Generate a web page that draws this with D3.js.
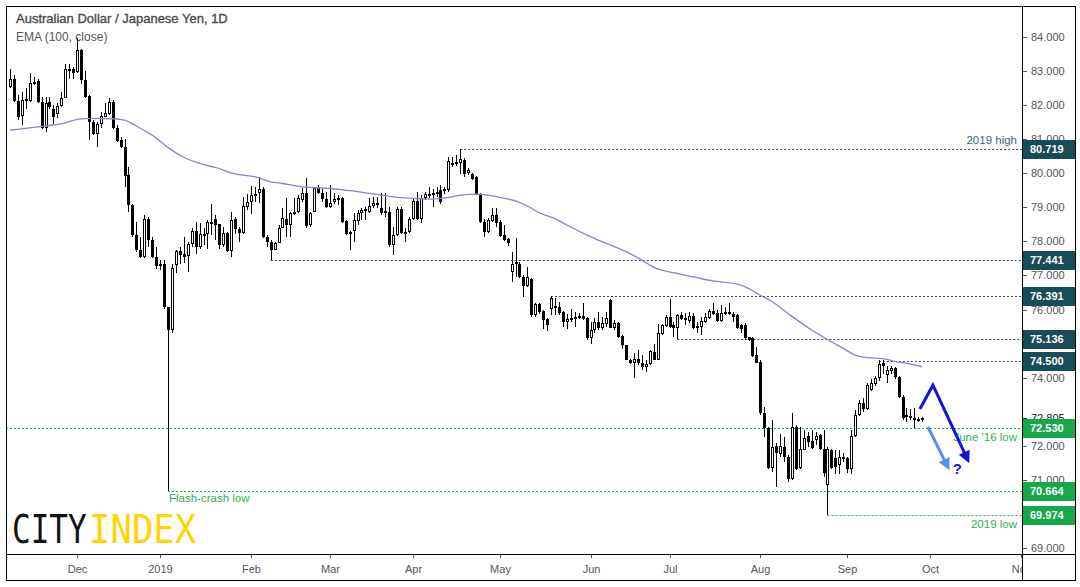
<!DOCTYPE html>
<html><head><meta charset="utf-8">
<script src="https://cdn.jsdelivr.net/npm/d3@7"></script>
<style>body{margin:0;background:#fff}svg{display:block}</style>
</head><body>
<svg id="c" width="1080" height="587"></svg>
<script>
// ---------- DATA ----------
const startDate = "2018-11-08"; // first daily bar (weekdays only)
const opens = [
82.54,82.78,82.13,81.68,82.15,82.13,82.68,82.70,82.10,81.32,
82.10,81.90,81.74,81.98,82.20,83.05,83.05,82.98,83.62,82.74,
82.27,81.51,81.15,81.46,81.66,81.74,82.10,81.34,80.99,80.76,
79.95,79.06,78.18,77.74,77.55,78.67,78.04,77.55,77.28,77.35,
76.06,75.41,77.30,77.72,77.62,77.57,77.92,78.31,77.84,78.23,
78.21,78.58,78.67,78.50,77.88,78.25,77.72,78.67,78.35,78.25,
79.01,79.17,79.36,79.41,79.53,78.14,77.99,77.76,77.94,78.38,
78.67,78.48,78.85,78.87,79.21,79.43,78.48,78.87,79.56,79.43,
79.23,79.00,79.17,79.26,79.26,78.60,78.26,78.31,78.60,78.82,
78.95,78.87,79.04,79.11,78.97,78.82,78.87,77.89,78.20,78.95,
78.25,78.28,78.67,79.18,78.67,79.28,79.38,79.36,79.45,79.51,
79.48,79.51,80.31,80.34,80.31,80.39,80.02,79.99,79.90,79.39,
78.58,78.28,78.61,78.77,78.58,78.18,78.06,77.11,77.35,77.35,
76.96,76.69,76.91,75.84,76.16,75.95,75.71,76.03,76.10,76.08,
75.93,75.64,75.71,75.77,75.74,75.80,75.74,75.15,75.40,75.62,
75.46,75.59,76.28,75.47,75.61,75.22,74.95,74.53,74.42,74.56,
74.42,74.30,74.40,74.76,74.53,75.28,75.52,75.79,75.54,75.47,
75.84,75.74,75.67,75.81,75.45,75.49,75.64,75.74,75.95,75.90,
75.67,75.93,75.93,75.88,75.83,75.54,75.54,75.18,75.15,74.66,
74.47,72.95,72.51,71.36,71.99,71.77,71.97,71.68,71.04,72.56,
71.36,71.89,72.28,72.15,72.16,72.31,71.92,70.84,71.87,71.63,
71.43,71.63,71.63,71.33,72.28,72.90,73.26,73.07,73.65,73.81,
73.98,74.44,74.07,74.20,74.27,74.02,73.44,72.90,72.87,72.83,
72.73,72.77];
const highs = [
83.05,82.88,82.30,82.39,82.49,82.93,82.83,82.78,82.25,82.25,
82.25,82.00,82.05,82.39,83.21,83.22,83.11,83.96,83.64,83.01,
82.29,81.56,81.51,81.81,82.07,82.20,82.15,81.41,81.07,81.02,
80.19,79.10,78.58,78.13,78.77,78.72,78.13,77.84,77.45,77.45,
76.08,77.33,77.74,77.84,78.13,77.99,78.38,78.58,78.53,78.38,
78.62,79.11,78.77,78.52,78.43,78.28,78.87,78.72,78.41,79.31,
79.39,79.62,79.60,79.88,79.60,78.19,78.04,77.99,78.48,78.97,
79.26,78.87,79.26,79.36,79.56,79.85,78.87,79.60,79.65,79.53,
79.46,79.65,79.41,79.36,79.31,78.63,78.30,78.82,78.92,78.97,
79.02,79.26,79.31,79.31,79.41,79.41,79.00,78.43,79.02,79.02,
78.38,78.72,79.26,79.46,79.36,79.46,79.60,79.53,79.60,79.65,
79.60,80.49,80.49,80.53,80.719,80.45,80.14,80.02,79.92,79.41,
78.65,78.68,78.97,78.97,78.63,78.48,78.10,77.70,78.09,77.40,
77.01,77.26,76.94,76.20,76.20,75.98,75.74,76.391,76.33,76.23,
75.95,75.88,76.03,75.93,75.90,76.20,75.77,75.64,75.74,75.93,
75.79,75.93,76.30,75.69,75.64,75.25,74.97,74.56,74.71,74.81,
74.66,74.52,74.81,75.00,75.59,75.59,75.84,76.30,75.64,75.86,
75.93,75.91,75.93,75.91,75.64,75.77,75.90,76.03,76.18,76.00,
76.13,76.08,76.18,75.93,75.88,75.59,75.61,75.20,75.20,74.90,
74.52,73.14,72.56,72.75,72.09,72.36,72.26,71.72,72.95,72.61,
72.56,72.46,72.41,72.46,72.41,72.36,72.46,71.97,71.92,71.87,
71.87,71.79,71.68,72.46,73.05,73.34,73.40,73.83,73.95,74.05,
74.51,74.51,74.34,74.35,74.30,74.05,73.48,73.12,73.09,73.12,
72.85,72.85];
const lows = [
82.50,82.10,81.56,81.41,81.90,82.10,82.59,82.05,81.29,81.22,
81.90,81.46,81.61,81.95,82.20,82.78,82.78,82.95,82.62,82.20,
80.97,81.12,80.76,81.32,81.64,81.71,81.29,80.92,80.73,79.60,
78.87,78.13,77.70,77.50,77.50,77.85,77.50,77.18,77.16,76.03,
70.664,75.30,77.06,77.35,77.37,77.11,77.84,77.64,77.79,77.89,
77.79,78.18,78.04,77.79,77.84,77.70,77.55,78.23,77.99,78.21,
78.92,78.80,79.16,79.13,78.09,77.85,77.441,77.74,77.94,78.38,
78.14,78.14,78.77,78.82,79.16,78.38,78.43,78.87,79.40,79.16,
78.97,78.97,79.11,79.07,78.55,78.20,77.75,77.99,78.48,78.63,
78.63,78.82,78.97,78.97,78.77,78.72,77.84,77.60,78.15,78.21,
77.99,78.25,78.62,78.62,78.53,79.21,79.26,79.02,79.30,79.11,
79.40,79.45,80.19,80.20,79.99,79.90,79.95,79.80,79.36,78.53,
78.14,78.25,78.58,78.43,78.14,78.00,77.86,76.82,76.96,76.92,
76.38,76.67,75.77,75.79,75.87,75.42,75.38,75.83,75.83,75.85,
75.49,75.44,75.64,75.49,75.71,75.69,75.12,75.00,75.30,75.40,
75.40,75.49,75.45,75.40,75.15,74.83,74.51,74.40,73.98,74.37,
74.22,74.17,74.37,74.51,74.51,75.25,75.49,75.45,75.20,75.136,
75.69,75.54,75.61,75.42,75.30,75.25,75.61,75.71,75.84,75.64,
75.64,75.84,75.84,75.64,75.44,75.30,75.12,75.08,74.61,74.42,
72.90,72.26,71.33,71.24,70.79,71.67,71.53,70.94,70.99,71.28,
71.33,71.87,71.97,71.92,72.02,71.89,71.09,69.974,71.33,71.18,
71.18,71.53,71.20,71.18,72.25,72.87,73.00,73.04,73.60,73.75,
73.90,74.12,73.83,74.10,73.95,73.39,72.77,72.70,72.75,72.53,
72.70,72.70];
const closes = [
82.78,82.13,81.64,82.15,82.17,82.66,82.62,82.10,81.32,82.07,
81.95,81.66,81.98,82.20,83.05,83.03,82.93,83.62,82.74,82.23,
81.51,81.15,81.46,81.68,81.76,82.10,81.32,80.95,80.76,79.92,
79.06,78.18,77.74,77.55,78.67,78.04,77.55,77.28,77.35,76.06,
75.41,77.23,77.72,77.60,77.55,77.92,78.31,77.84,78.23,78.15,
78.58,78.55,78.48,77.88,78.25,77.72,78.64,78.35,78.25,79.03,
79.17,79.36,79.39,79.55,78.14,77.99,77.74,77.94,78.38,78.70,
78.48,78.82,78.87,79.26,79.41,78.45,78.82,79.58,79.43,79.23,
79.02,79.14,79.23,79.23,78.58,78.23,78.28,78.63,78.82,78.92,
78.90,79.04,79.14,79.12,78.82,78.90,77.89,78.20,78.95,78.25,
78.28,78.67,79.18,78.67,79.28,79.38,79.39,79.43,79.46,79.16,
79.53,80.37,80.31,80.29,80.41,79.99,80.09,79.82,79.39,78.58,
78.28,78.63,78.77,78.55,78.16,78.04,77.96,77.35,77.39,76.96,
76.69,76.96,75.84,76.16,75.94,75.69,75.54,76.33,76.05,75.90,
75.64,75.71,75.75,75.71,75.80,75.71,75.15,75.40,75.62,75.47,
75.61,75.74,75.47,75.61,75.20,74.95,74.53,74.42,74.56,74.42,
74.30,74.40,74.79,74.53,75.30,75.54,75.79,75.49,75.47,75.84,
75.71,75.69,75.81,75.45,75.51,75.67,75.79,75.95,75.88,75.67,
75.90,75.88,75.88,75.77,75.47,75.44,75.15,75.12,74.63,74.44,
72.95,72.51,71.36,71.97,71.79,71.99,71.68,71.04,72.56,71.33,
71.92,72.24,72.12,71.95,72.28,71.92,71.19,71.92,71.36,71.38,
71.68,71.68,71.33,72.28,72.90,73.26,73.07,73.78,73.83,73.98,
74.40,74.34,74.22,74.27,74.02,73.44,72.83,72.85,72.83,72.75,
72.80,72.805];

// EMA(100, close): bar index / value
const emaIdx = [0,6,14,17,21,26,29,31,33,36,40,43,48,52,57,62,66,69,74,80,86,91,97,102,107,111,114,118,121,124,128,131,134,138,141,146,151,156,160,163,168,173,178,184,187,190,193,198,203,207,211,214,217,221,224,227,231];
const emaVal = [81.27,81.35,81.48,81.58,81.61,81.60,81.56,81.45,81.32,81.12,80.76,80.53,80.29,80.17,79.98,79.90,79.75,79.70,79.60,79.56,79.49,79.41,79.31,79.26,79.24,79.29,79.36,79.39,79.36,79.29,79.19,79.04,78.84,78.67,78.48,78.19,77.94,77.70,77.45,77.24,77.08,76.96,76.84,76.75,76.62,76.42,76.23,75.80,75.40,75.12,74.86,74.66,74.59,74.56,74.48,74.42,74.32];

// y tick labels visible in the reference (73, 75, 70 are hidden by price labels)
const yTickValues = [69,71,72,74,76,77,78,79,80,81,82,83,84];
const monthTickLabels = ["Dec","2019","Feb","Mar","Apr","May","Jun","Jul","Aug","Sep","Oct","Nov"];

const tealLevels = [80.719,77.441,76.391,75.136,74.500];
const tealStartIdx = [114,66,137,169,220];
const greenLevels = [72.530,70.664,69.974];
const greenStartIdx = [-3,40,207];
const lastPrice = 72.805;

// Annotation arrows in (bar index, price)
const arrowDark = [[230.4,73.08],[233.7,73.78],[242.9,71.49]];
const arrowLight = [[232.4,72.56],[237.9,71.28]];
const questionAt = [239.9,71.16];

// ---------- CHART ----------
const svg = d3.select("#c");
const frame = {l:6,t:6,r:1075,b:580};
const axisX = 1022, axisY = 554;

const x = d3.scaleLinear().domain([0,256]).range([10,1021]);
const y = d3.scaleLinear().domain([69,84]).range([548,37]);

const defs = svg.append("defs");
defs.append("clipPath").attr("id","pc").append("rect")
  .attr("x",frame.l).attr("y",frame.t).attr("width",axisX-frame.l).attr("height",axisY-frame.t);
defs.append("clipPath").attr("id","xc").append("rect")
  .attr("x",frame.l).attr("y",axisY).attr("width",axisX-frame.l).attr("height",frame.b-axisY);

svg.append("rect").attr("width",1080).attr("height",587).attr("fill","#fff");

const FONT = "'Liberation Sans', Arial, sans-serif";

// dates (weekdays) for the category axis
const dates = [];
{
  let d = new Date(startDate+"T00:00:00Z");
  while (dates.length < 262) {
    const wd = d.getUTCDay();
    if (wd !== 0 && wd !== 6) dates.push(new Date(d));
    d = new Date(d.getTime() + 86400000);
  }
}
const monthTicks = [];
for (let i = 1; i < dates.length; i++) {
  if (dates[i].getUTCMonth() !== dates[i-1].getUTCMonth()) monthTicks.push(i);
}

const plot = svg.append("g").attr("clip-path","url(#pc)");

// level lines
const tealColor = "#1d5363", greenColor = "#1daa4c";
tealLevels.forEach((v,k)=>{
  plot.append("line").attr("x1",Math.max(frame.l,x(tealStartIdx[k]))).attr("x2",axisX)
    .attr("y1",Math.round(y(v))+0.5).attr("y2",Math.round(y(v))+0.5)
    .attr("stroke",tealColor).attr("stroke-width",1.2).attr("stroke-dasharray","2,2");
});
greenLevels.forEach((v,k)=>{
  plot.append("line").attr("x1",Math.max(frame.l,x(greenStartIdx[k]))).attr("x2",axisX)
    .attr("y1",Math.round(y(v))+0.5).attr("y2",Math.round(y(v))+0.5)
    .attr("stroke",greenColor).attr("stroke-width",1.2).attr("stroke-dasharray","2,2");
});

// candles
const data = opens.map((o,i)=>({i,o,h:highs[i],l:lows[i],c:closes[i]}));
const cg = plot.append("g").attr("shape-rendering","crispEdges");
cg.selectAll("rect.wick").data(data).join("rect").attr("class","wick")
  .attr("x",d=>Math.round(x(d.i)))
  .attr("width",1)
  .attr("y",d=>y(Math.max(d.h,d.o,d.c)))
  .attr("height",d=>Math.max(1,y(Math.min(d.l,d.o,d.c))-y(Math.max(d.h,d.o,d.c))))
  .attr("fill","#000");
cg.selectAll("rect.body").data(data).join("rect").attr("class","body")
  .attr("x",d=>Math.round(x(d.i))-1)
  .attr("width",3)
  .attr("y",d=>Math.round(y(Math.max(d.o,d.c))))
  .attr("height",d=>Math.max(2,Math.round(y(Math.min(d.o,d.c)))-Math.round(y(Math.max(d.o,d.c)))))
  .attr("fill","#000");
cg.selectAll("rect.hollow").data(data.filter(d=>d.c>d.o)).join("rect").attr("class","hollow")
  .attr("x",d=>Math.round(x(d.i)))
  .attr("width",1)
  .attr("y",d=>Math.round(y(d.c))+1)
  .attr("height",d=>Math.max(0,Math.round(y(d.o))-Math.round(y(d.c))-2))
  .attr("fill","#fff");

// EMA
plot.append("path")
  .datum(emaIdx.map((i,k)=>[i,emaVal[k]]))
  .attr("d",d3.line().x(d=>x(d[0])).y(d=>y(d[1])).curve(d3.curveMonotoneX))
  .attr("fill","none").attr("stroke","#8a80d8").attr("stroke-width",1.3);

// in-plot labels
plot.append("text").attr("x",1017).attr("y",y(80.719)-5).attr("text-anchor","end")
  .attr("font-family",FONT).attr("font-size",11.5).attr("fill","#3a6675").text("2019 high");
plot.append("text").attr("x",1017).attr("y",y(72.530)+13).attr("text-anchor","end")
  .attr("font-family",FONT).attr("font-size",11.5).attr("fill","#2fb155").text("June '16 low");
plot.append("text").attr("x",1017).attr("y",y(69.974)+13).attr("text-anchor","end")
  .attr("font-family",FONT).attr("font-size",11.5).attr("fill","#2fb155").text("2019 low");
plot.append("text").attr("x",x(40)+1).attr("y",y(70.664)+11).attr("text-anchor","start")
  .attr("font-family",FONT).attr("font-size",11.5).attr("fill","#2fb155").text("Flash-crash low");

// arrows
function arrow(pts, color){
  const P = pts.map(p=>[x(p[0]),y(p[1])]);
  const tip = P[P.length-1], prev = P[P.length-2];
  const dx = tip[0]-prev[0], dy = tip[1]-prev[1], L = Math.hypot(dx,dy);
  const ux = dx/L, uy = dy/L, hl = 12, hw = 6;
  const base = [tip[0]-ux*hl, tip[1]-uy*hl];
  const linePts = P.slice(0,-1).concat([[base[0]+ux*2, base[1]+uy*2]]);
  plot.append("path").attr("d",d3.line()(linePts)).attr("fill","none")
    .attr("stroke",color).attr("stroke-width",3).attr("stroke-linejoin","miter");
  plot.append("path").attr("d",d3.line()([tip,[base[0]-uy*hw,base[1]+ux*hw],[base[0]+uy*hw,base[1]-ux*hw]])+"Z")
    .attr("fill",color);
}
arrow(arrowLight,"#5a8cf5");
arrow(arrowDark,"#1414d6");
plot.append("text").attr("x",x(questionAt[0])).attr("y",y(questionAt[1])).attr("text-anchor","middle")
  .attr("font-family",FONT).attr("font-size",15).attr("font-weight","bold").attr("fill","#2020c8").text("?");

// logo (two separate words, stretched vertically)
svg.append("text").attr("transform","translate(12,543) scale(1,1.25)")
  .attr("font-family","'DejaVu Sans Mono', monospace").attr("font-size",31)
  .attr("fill","#111").text("CITY");
svg.append("text").attr("transform","translate(89,543) scale(1.15,1.25)")
  .attr("font-family","'DejaVu Sans Mono', monospace").attr("font-size",31)
  .attr("fill","#ffd400").text("INDEX");

// title
svg.append("text").attr("x",16).attr("y",23).attr("font-family",FONT).attr("font-size",13)
  .attr("fill","#4a4a4a").attr("stroke","#4a4a4a").attr("stroke-width",0.35)
  .text("Australian Dollar / Japanese Yen, 1D");
svg.append("text").attr("x",16).attr("y",41).attr("font-family",FONT).attr("font-size",12)
  .attr("fill","#555").text("EMA (100, close)");

// y axis
const ya = svg.append("g");
yTickValues.forEach(v=>{
  const yy = Math.round(y(v))+0.5;
  ya.append("line").attr("x1",axisX).attr("x2",axisX+5).attr("y1",yy).attr("y2",yy).attr("stroke","#555");
  ya.append("text").attr("x",axisX+9).attr("y",yy).attr("dy","0.35em")
    .attr("font-family",FONT).attr("font-size",11).attr("fill","#555").text(d3.format(".3f")(v));
});
// last price label
{
  const yy = Math.round(y(lastPrice))+0.5;
  ya.append("line").attr("x1",axisX).attr("x2",axisX+5).attr("y1",yy).attr("y2",yy).attr("stroke","#333");
  ya.append("text").attr("x",axisX+9).attr("y",yy).attr("dy","0.35em")
    .attr("font-family",FONT).attr("font-size",11).attr("fill","#222").text(d3.format(".3f")(lastPrice));
}
function box(v,color){
  const yy = Math.round(y(v));
  ya.append("rect").attr("x",axisX).attr("y",yy-9).attr("width",frame.r-axisX).attr("height",19).attr("fill",color);
  ya.append("text").attr("x",axisX+8).attr("y",yy+0.5).attr("dy","0.36em")
    .attr("font-family",FONT).attr("font-size",11).attr("font-weight","bold").attr("fill","#fff").text(d3.format(".3f")(v));
}
tealLevels.forEach(v=>box(v,"#184c5b"));
greenLevels.forEach(v=>box(v,"#17a84b"));

// x axis
const xa = svg.append("g").attr("clip-path","url(#xc)");
monthTicks.slice(0,monthTickLabels.length).forEach((i,k)=>{
  const xx = Math.round(x(i))+0.5;
  xa.append("line").attr("x1",xx).attr("x2",xx).attr("y1",axisY).attr("y2",axisY+4).attr("stroke","#555");
  xa.append("text").attr("x",xx).attr("y",axisY+19).attr("text-anchor","middle")
    .attr("font-family",FONT).attr("font-size",11).attr("fill","#555").text(monthTickLabels[k]);
});

// frame and axis lines
const fr = svg.append("g").attr("shape-rendering","crispEdges");
fr.append("rect").attr("x",frame.l+0.5).attr("y",frame.t+0.5).attr("width",frame.r-frame.l).attr("height",frame.b-frame.t)
  .attr("fill","none").attr("stroke","#000").attr("stroke-width",1.5);
fr.append("line").attr("x1",frame.l).attr("x2",frame.r).attr("y1",axisY+0.5).attr("y2",axisY+0.5).attr("stroke","#000").attr("stroke-width",1.5);
fr.append("line").attr("x1",axisX+0.5).attr("x2",axisX+0.5).attr("y1",frame.t).attr("y2",frame.b).attr("stroke","#000").attr("stroke-width",1.5);
</script>
</body></html>
